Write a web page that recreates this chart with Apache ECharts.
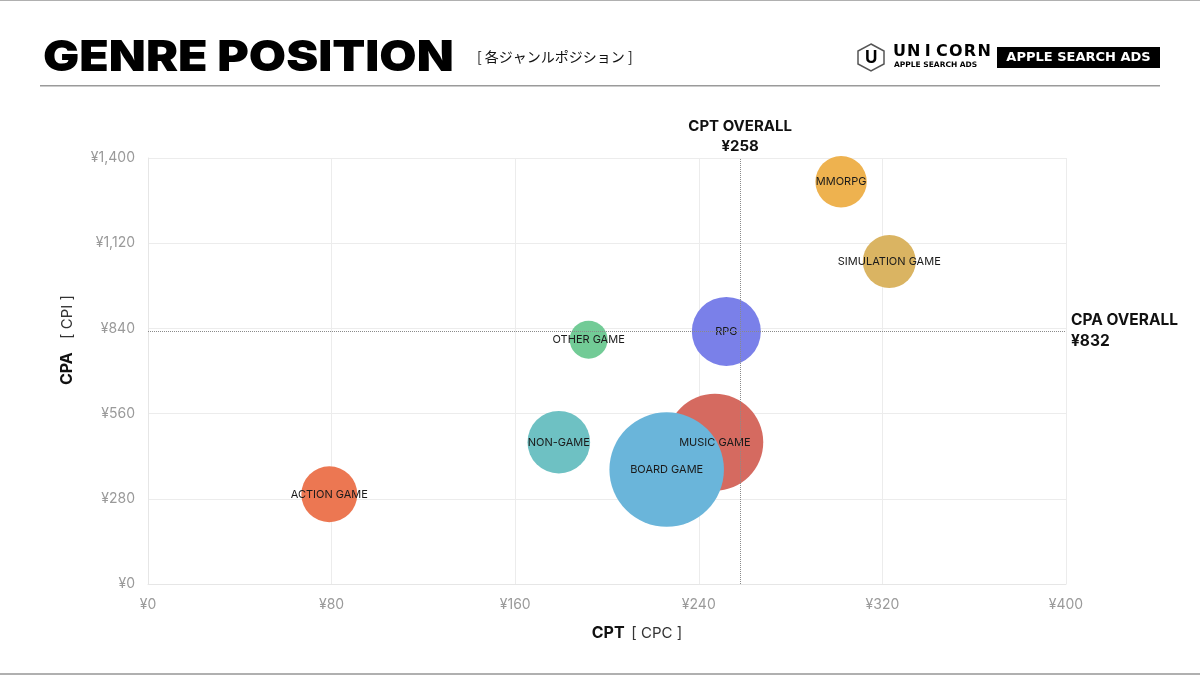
<!DOCTYPE html>
<html>
<head>
<meta charset="utf-8">
<script src="https://cdn.jsdelivr.net/npm/echarts@6/dist/echarts.min.js"></script>
<style>
html,body{margin:0;padding:0;background:#fff;}
#c{width:1200px;height:675px;}
</style>
</head>
<body>
<div id="c"></div>
<script>
// ---- data ----
const genres = ['ACTION GAME','NON-GAME','OTHER GAME','MUSIC GAME','BOARD GAME','RPG','MMORPG','SIMULATION GAME'];
const cpt    = [79, 179, 192, 247, 226, 252, 302, 323];
const cpa    = [295, 466, 803, 466, 376, 830, 1322, 1060];
const volume = [780, 980, 360, 2340, 3280, 1190, 660, 700];
const colors = ['#EC7752','#6EC1C3','#72CB96','#D56A60','#6AB5DA','#7A80E9','#EEB24F','#DAB462'];
const xTicks = [0, 80, 160, 240, 320, 400];
const yTicks = [0, 280, 560, 840, 1120, 1400];
const cptOverall = 258;
const cpaOverall = 832;

const yen = v => '¥' + Number(v).toLocaleString('en-US');
const FONT = 'Inter, "Noto Sans", "Noto Sans CJK JP", sans-serif';

const chart = echarts.init(document.getElementById('c'), null, {renderer:'canvas'});

const points = genres.map((g,i)=>({
  name: g,
  value: [cpt[i], cpa[i], volume[i]],
  itemStyle: {color: colors[i]}
}));

// logo letters spaced individually (centred)
const logoLetters = 'UNICORN'.split('').map((ch,i)=>({
  type:'text', x: 899.5 + i*14.1, y: 44,
  style:{text:ch, font:'bold 16px "DejaVu Sans", sans-serif', fill:'#000', align:'center'}
}));

const option = {
  backgroundColor: '#fff',
  animation: false,
  textStyle: {fontFamily: FONT},
  grid: {left:148, right:134, top:158, bottom:91, containLabel:false},
  xAxis: {
    type:'value', min:xTicks[0], max:xTicks[xTicks.length-1], interval:80,
    axisLine:{show:true, lineStyle:{color:'#e6e6e6'}},
    axisTick:{show:false},
    splitLine:{show:true, lineStyle:{color:'#ececec'}},
    axisLabel:{color:'#9a9a9a', fontSize:14, margin:14, formatter: yen, fontFamily: FONT}
  },
  yAxis: {
    type:'value', min:yTicks[0], max:yTicks[yTicks.length-1], interval:280,
    axisLine:{show:true, lineStyle:{color:'#e6e6e6'}},
    axisTick:{show:false},
    splitLine:{show:true, lineStyle:{color:'#ececec'}},
    axisLabel:{color:'#9a9a9a', fontSize:14, margin:13, formatter: yen, fontFamily: FONT}
  },
  series: [{
    type:'scatter',
    data: points,
    symbolSize: v => 2*Math.sqrt(v[2]),
    itemStyle:{opacity:1},
    label:{show:true, position:'inside', formatter: p=>p.name, color:'#1a1a1a', fontSize:11, fontFamily:FONT},
    markLine:{
      silent:true, symbol:['none','none'],
      lineStyle:{type:'dotted', color:'#8a8a8a', width:1},
      data:[
        {xAxis: cptOverall, label:{position:'end', distance:2, formatter:'CPT OVERALL\n' + yen(cptOverall), color:'#111', fontSize:15, fontWeight:'bold', lineHeight:20, align:'center', fontFamily:FONT}},
        {yAxis: cpaOverall, label:{position:'end', distance:5, formatter:'CPA OVERALL\n' + yen(cpaOverall), color:'#111', fontSize:15.5, fontWeight:'bold', lineHeight:21, align:'left', fontFamily:FONT}}
      ]
    }
  }],
  graphic: [
    // page frame lines
    {type:'rect', shape:{x:0,y:0,width:1200,height:1}, style:{fill:'#b0b0b0'}},
    {type:'rect', shape:{x:0,y:673,width:1200,height:2}, style:{fill:'#b0b0b0'}},
    // title
    {type:'text', x:43, y:37, scaleX:1.12, style:{text:'GENRE POSITION', font:'900 43px Inter, "Liberation Sans", sans-serif', fill:'#000'}},
    {type:'text', x:477, y:50, style:{text:'[ 各ジャンルポジション ]', font:'14px "Noto Sans CJK JP", sans-serif', fill:'#111'}},
    {type:'rect', shape:{x:40,y:85,width:1120,height:1.5}, style:{fill:'#9a9a9a'}},
    // axis names
    {type:'text', x:67, y:340, rotation:Math.PI/2, style:{
      text:'{b|CPA}    {n|[ CPI ]}', align:'center', verticalAlign:'middle',
      rich:{b:{font:'bold 16px Inter, sans-serif', fill:'#111'}, n:{font:'15px Inter, sans-serif', fill:'#333'}}}},
    {type:'text', x:637, y:633, style:{
      text:'{b|CPT}  {n|[ CPC ]}', align:'center', verticalAlign:'middle',
      rich:{b:{font:'bold 16px Inter, sans-serif', fill:'#111'}, n:{font:'15px Inter, sans-serif', fill:'#333'}}}},
    // logo
    {type:'polygon', shape:{points:[[871,44],[884,51],[884,64],[871,71],[858,64],[858,51]]}, style:{fill:'none', stroke:'#555', lineWidth:1.5}},
    {type:'text', x:865, y:49, style:{text:'U', font:'bold 17px Inter, sans-serif', fill:'#000'}},
    ...logoLetters,
    {type:'text', x:894, y:61, style:{text:'APPLE SEARCH ADS', font:'bold 7.5px "DejaVu Sans", sans-serif', fill:'#000'}},
    {type:'rect', shape:{x:997,y:47,width:163,height:21}, style:{fill:'#000'}},
    {type:'text', x:1078.5, y:57.5, style:{text:'APPLE SEARCH ADS', font:'bold 13px "DejaVu Sans", sans-serif', fill:'#fff', align:'center', verticalAlign:'middle'}}
  ]
};
chart.setOption(option);
</script>
</body>
</html>
